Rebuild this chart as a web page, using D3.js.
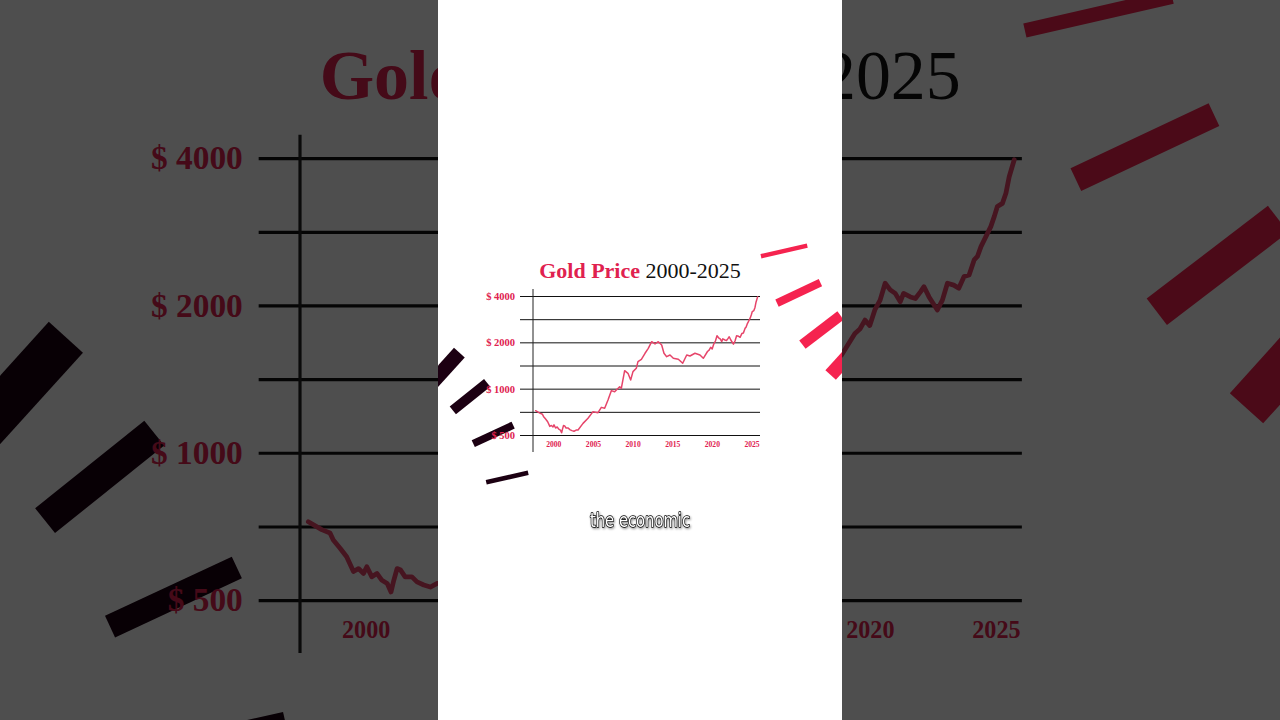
<!DOCTYPE html>
<html><head><meta charset="utf-8">
<script src="https://cdn.jsdelivr.net/npm/d3@7"></script>
<style>html,body{margin:0;padding:0;background:#4e4e4e;overflow:hidden}</style>
</head><body><svg id="c" width="1280" height="720"></svg>
<script>
// ---- data ----
const years = [1997.77,1998.30,1998.63,1998.76,1999.03,1999.29,1999.56,1999.76,1999.96,2000.09,
  2000.29,2000.49,2000.69,2000.90,2001.05,2001.16,2001.29,2001.43,2001.61,2001.88,
  2002.08,2002.35,2002.61,2002.88,2003.12,2003.75,2004.38,2005.01,2005.64,2006.06,
  2006.48,2006.90,2007.32,2007.74,2008.37,2008.58,2009.00,2009.42,2009.76,2010.05,
  2010.47,2010.68,2011.11,2011.57,2011.98,2012.41,2012.83,2013.24,2013.67,2013.96,
  2014.30,2014.72,2015.14,2015.77,2016.32,2016.83,2017.24,2017.87,2018.50,2018.92,
  2019.45,2019.65,2019.85,2020.04,2020.24,2020.45,2020.65,2020.85,2021.05,2021.25,
  2021.38,2021.65,2021.85,2022.05,2022.19,2022.39,2022.72,2022.92,2023.12,2023.37,
  2023.57,2023.78,2023.98,2024.18,2024.31,2024.45,2024.65,2024.84,2024.98,2025.10,
  2025.30,2025.44,2025.57,2025.77];
const prices = [719,693,682,660,635,610,569,577,564,582,
  555,564,546,538,517,546,577,573,555,555,
  542,534,529,538,539,595,642,709,698,756,
  745,844,971,956,1030,1005,1309,1258,1138,1290,
  1356,1498,1551,1698,1829,2019,1951,2019,1922,1698,
  1613,1655,1575,1552,1462,1655,1630,1698,1655,1575,
  1744,1781,1857,1810,1948,2040,2209,2141,2106,2025,
  2106,2071,2056,2121,2173,2071,1948,2040,2209,2189,
  2157,2280,2297,2464,2505,2624,2753,2883,3025,3168,
  3216,3373,3646,3948];
const xTickYears = [2000, 2005, 2010, 2015, 2020, 2025];
const yLabelValues = [500, 1000, 2000, 4000];
const yGridValues = [500, 707, 1000, 1414, 2000, 2828, 4000];
const titleRed = "Gold Price";
const titleBlack = "2000-2025";
const subtitle = "the economic";

// ---- layout / style ----
const RED = "#e0214f", LINE = "#e6456a", BAR_RED = "#f5234f", BAR_DARK = "#1c0012";
const SERIF = "'Liberation Serif','DejaVu Serif',serif";
const frame = {gridL: 520, gridR: 760, axisX: 533, axisTop: 289, axisBot: 452, xLabelY: 444.5};
const x = d3.scaleLinear().domain([2000, 2025]).range([553.3, 751.5]);
const y = d3.scaleLog().domain([500, 4000]).range([435, 296]);

const decor = [
  {cx: 444.6, cy: 369.0, len: 44, th: 14.5, ang: -47.8, c: BAR_DARK},
  {cx: 470.0, cy: 396.6, len: 44, th: 10.0, ang: -38.7, c: BAR_DARK},
  {cx: 493.2, cy: 434.4, len: 44, th: 7.5,  ang: -25.0, c: BAR_DARK},
  {cx: 507.2, cy: 477.5, len: 43, th: 4.7,  ang: -12.6, c: BAR_DARK},
  {cx: 784.1, cy: 250.9, len: 47.5, th: 4.5, ang: -12.9, c: BAR_RED},
  {cx: 798.7, cy: 292.9, len: 48, th: 7.9,  ang: -25.2, c: BAR_RED},
  {cx: 821.5, cy: 330.1, len: 48, th: 10.5, ang: -37.4, c: BAR_RED},
  {cx: 846.7, cy: 357.2, len: 48, th: 14.1, ang: -48.0, c: BAR_RED}
];

function drawScene(g) {
  g.selectAll("rect.bar").data(decor).join("rect").attr("class", "bar")
    .attr("x", d => -d.len / 2).attr("y", d => -d.th / 2)
    .attr("width", d => d.len).attr("height", d => d.th)
    .attr("transform", d => `translate(${d.cx},${d.cy}) rotate(${d.ang})`)
    .attr("fill", d => d.c);

  const t = g.append("text").attr("x", 640).attr("y", 277.7).attr("text-anchor", "middle")
    .attr("font-family", SERIF).attr("font-size", 22);
  t.append("tspan").attr("fill", RED).attr("font-weight", "bold").text(titleRed);
  t.append("tspan").attr("fill", "#111").text(" " + titleBlack);

  const ya = d3.axisLeft(y).tickValues(yGridValues)
    .tickSize(-(frame.gridR - frame.gridL)).tickPadding(5)
    .tickFormat(v => yLabelValues.includes(v) ? "$ " + v : "");
  const yg = g.append("g").attr("transform", `translate(${frame.gridL},0)`).call(ya);
  yg.select(".domain").remove();
  yg.selectAll(".tick line").attr("stroke", "#111").attr("stroke-width", 1);
  yg.selectAll(".tick text").attr("fill", RED).attr("font-family", SERIF)
    .attr("font-weight", "bold").attr("font-size", 10.5);

  g.append("line").attr("x1", frame.axisX).attr("x2", frame.axisX)
    .attr("y1", frame.axisTop).attr("y2", frame.axisBot)
    .attr("stroke", "#222").attr("stroke-width", 1);

  const xa = d3.axisBottom(x).tickValues(xTickYears).tickSize(0).tickPadding(0)
    .tickFormat(d3.format("d"));
  const xg = g.append("g").attr("transform", `translate(0,${frame.xLabelY})`).call(xa);
  xg.select(".domain").remove();
  xg.selectAll(".tick text").attr("y", 0).attr("dy", "0.35em").attr("fill", RED)
    .attr("font-family", SERIF).attr("font-weight", "bold").attr("font-size", 7.6);

  const line = d3.line().x(d => x(d[0])).y(d => y(d[1])).curve(d3.curveLinear);
  g.append("path").datum(d3.zip(years, prices)).attr("d", line)
    .attr("fill", "none").attr("stroke", LINE).attr("stroke-width", 1.5)
    .attr("stroke-linejoin", "round").attr("stroke-linecap", "round");
}

const svg = d3.select("#c");
svg.append("rect").attr("width", 1280).attr("height", 720).attr("fill", "#fff");

// enlarged, darkened background copy
const S = 3.18, tx = 300 - 533 * S, ty = 157 - 296 * S;
const bg = svg.append("g").attr("transform", `translate(${tx},${ty}) scale(${S})`);
drawScene(bg);
svg.append("rect").attr("width", 1280).attr("height", 720).attr("fill", "#000").attr("opacity", 0.695);

// central panel
svg.append("clipPath").attr("id", "pc").append("rect")
  .attr("x", 438).attr("y", 0).attr("width", 404).attr("height", 720);
const fg = svg.append("g").attr("clip-path", "url(#pc)");
fg.append("rect").attr("x", 438).attr("y", 0).attr("width", 404).attr("height", 720).attr("fill", "#fff");
drawScene(fg);

const defs = svg.append("defs");
const f = defs.append("filter").attr("id", "sh").attr("x", "-10%").attr("y", "-30%").attr("width", "120%").attr("height", "160%");
f.append("feDropShadow").attr("dx", 0.8).attr("dy", 1.2).attr("stdDeviation", 0.8)
  .attr("flood-color", "#000").attr("flood-opacity", 0.45);

fg.append("text").attr("x", 640).attr("y", 527).attr("text-anchor", "middle")
  .attr("font-family", "'Liberation Sans Narrow','DejaVu Sans Condensed','Roboto Condensed',sans-serif")
  .attr("font-size", 19).attr("textLength", 100).attr("lengthAdjust", "spacingAndGlyphs")
  .attr("fill", "#fff").attr("stroke", "#000").attr("stroke-width", 1.4)
  .attr("paint-order", "stroke").attr("stroke-linejoin", "round")
  .attr("filter", "url(#sh)")
  .text(subtitle);
</script></body></html>
